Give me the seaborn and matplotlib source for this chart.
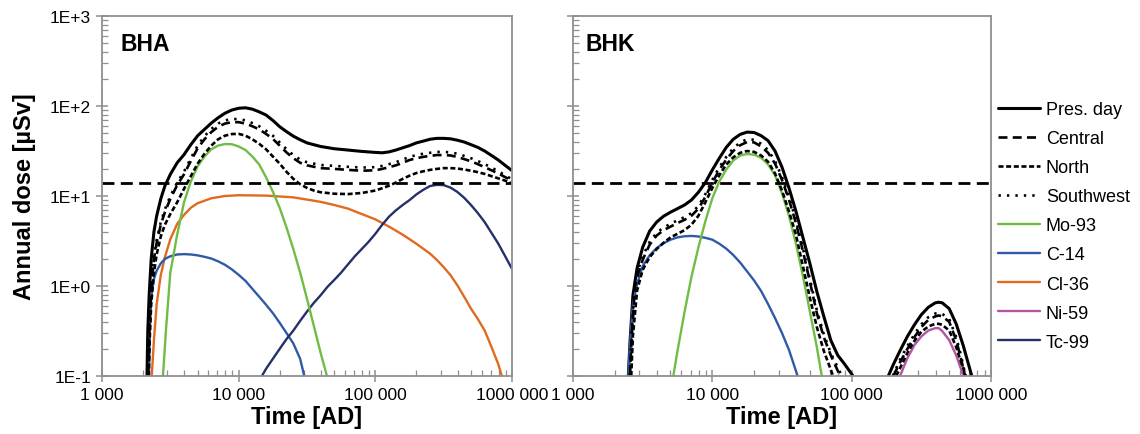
import matplotlib
matplotlib.use("Agg")
import matplotlib.pyplot as plt
from matplotlib.lines import Line2D
from matplotlib.ticker import FixedLocator, LogLocator, NullFormatter
import pandas as pd
import seaborn as sns

sns.set_theme(style="white")
plt.rcParams["font.family"] = ["Liberation Sans", "DejaVu Sans"]
plt.rcParams["text.color"] = "black"
plt.rcParams["axes.labelcolor"] = "black"

# ---------------- annual dose [uSv] versus time [AD] ----------------
dose_limit = 14.0

# ---- BHA ----
bha_pres_t = [2134, 2163, 2213, 2291, 2399, 2512, 2692, 2884, 3162, 3548, 3981, 4467, 5012,
              5623, 6310, 7079, 7943, 8913, 10000, 11220, 12590, 14130, 15850, 17780, 19950,
              22390, 25120, 28180, 31620, 39810, 50120, 63100, 79430, 100000, 112200, 125900,
              141300, 158500, 177800, 199500, 223900, 251200, 281800, 316200, 354800, 398100,
              446700, 501200, 562300, 631000, 707900, 794300, 891300, 1000000]
bha_pres_d = [0.1, 0.32, 0.79, 2.0, 4.0, 6.0, 9.3, 12.9, 17.4, 23.4, 28.8, 37.2, 46.8,
              55, 64.6, 74.1, 83.2, 90.2, 94.4, 95.5, 92.3, 86.1, 79.4, 69.2, 58.9,
              51.9, 46.2, 42.2, 38.9, 35.5, 33.5, 32.4, 31.3, 30.5, 30.2, 30.9,
              32.4, 34.3, 36.3, 38.9, 40.7, 42.7, 43.7, 43.7, 43.2, 41.7,
              39.8, 37.2, 34.7, 31.6, 28.2, 25.1, 21.9, 19.1]

bha_central_t = [2170, 2213, 2291, 2399, 2512, 2692, 2884, 3162, 3548, 3981, 4467, 5012,
                 5623, 6310, 7079, 7943, 8913, 10000, 11220, 12590, 14130, 15850, 17780,
                 19950, 22390, 25120, 28180, 31620, 39810, 50120, 63100, 79430, 100000,
                 112200, 125900, 141300, 158500, 177800, 199500, 223900, 251200, 281800,
                 316200, 354800, 398100, 446700, 501200, 562300, 631000, 707900, 794300,
                 891300, 1000000]
bha_central_d = [0.1, 0.35, 0.89, 2.0, 3.0, 4.8, 6.6, 9.3, 13.2, 17.4, 24.5, 33.9,
                 42.7, 51.3, 58.9, 63.8, 66.1, 66.1, 63.8, 59.6, 55, 49, 43.2,
                 36.3, 30.5, 26.3, 23.4, 21.9, 20.4, 20, 19.5, 19.1, 19.3,
                 20, 20.9, 21.9, 23.4, 25.1, 26.3, 27.2, 27.9, 28.5,
                 28.5, 28.2, 27.2, 25.7, 24.3, 22.6, 20.9, 19.3, 17.8,
                 16.2, 14.8]

bha_north_t = [2198, 2239, 2291, 2399, 2512, 2692, 2884, 3162, 3548, 3981, 4467, 5012,
               5623, 6310, 7079, 7943, 8913, 10000, 11220, 12590, 14130, 15850, 17780,
               19950, 22390, 25120, 28180, 31620, 35480, 39810, 50120, 63100, 79430,
               100000, 112200, 125900, 141300, 158500, 177800, 199500, 223900, 251200,
               281800, 316200, 354800, 398100, 446700, 501200, 562300, 631000, 707900,
               794300, 891300, 1000000]
bha_north_d = [0.1, 0.28, 0.63, 1.41, 2.24, 3.55, 4.79, 6.31, 8.51, 12.0, 16.6, 22.9,
               29.5, 36.3, 42.7, 46.8, 48.8, 49, 46.8, 42.7, 38, 33.1, 27.5,
               22.9, 18.6, 15.5, 13.5, 12.3, 11.5, 11.0, 10.6, 10.5, 10.8,
               11.5, 12.2, 13.0, 14.1, 15.5, 16.8, 18.0, 18.8, 19.5,
               20, 20.4, 20.4, 20.2, 19.7, 19.1, 18.4, 17.6, 16.6,
               15.7, 14.8, 13.8]

bha_sw_t = [2165, 2213, 2291, 2399, 2512, 2692, 2884, 3162, 3548, 3981, 4467, 5012,
            5623, 6310, 7079, 7943, 8913, 10000, 11220, 12590, 14130, 15850, 17780,
            19950, 22390, 25120, 28180, 31620, 39810, 50120, 63100, 79430, 100000,
            112200, 125900, 141300, 158500, 177800, 199500, 223900, 251200, 281800,
            316200, 354800, 398100, 446700, 501200, 562300, 631000, 707900, 794300,
            891300, 1000000]
bha_sw_d = [0.1, 0.4, 1.0, 2.14, 3.24, 5.13, 7.08, 10, 14.1, 18.6, 26.3, 36.3,
            46.2, 55.6, 63.8, 69.2, 71.6, 71.6, 69.2, 64.6, 59.6, 53.1, 46.8,
            39.4, 33.1, 28.5, 25.4, 23.7, 22.1, 21.6, 21.1, 20.7, 20.9,
            21.6, 22.6, 23.7, 25.4, 27.2, 28.5, 29.5, 30.2, 30.9,
            30.9, 30.5, 29.5, 27.9, 26.3, 24.5, 22.6, 20.7, 18.8,
            17, 15.3]

bha_mo93_t = [2793, 2951, 3162, 3548, 3981, 4467, 5012, 5623, 6310, 7079, 7943, 8913,
              10000, 11220, 12590, 14130, 15850, 17780, 19950, 22390, 25120, 28180,
              31620, 35480, 39810, 44260]
bha_mo93_d = [0.1, 0.355, 1.41, 3.72, 8.5, 14.5, 21.4, 27.5, 33.1, 36.3, 37.8, 37.6,
              35.5, 32.4, 27.5, 22.4, 16.2, 11.2, 7.4, 4.47, 2.57, 1.41,
              0.72, 0.36, 0.18, 0.1]

bha_c14_t = [2208, 2239, 2291, 2399, 2512, 2692, 2884, 3162, 3548, 3981, 4467, 5012,
             5623, 6310, 7079, 7943, 8913, 10000, 11220, 12590, 14130, 15850, 17780,
             19950, 22390, 25120, 28180, 30200]
bha_c14_d = [0.1, 0.32, 0.74, 1.2, 1.48, 1.78, 2.0, 2.14, 2.24, 2.26, 2.24, 2.19,
             2.11, 2.02, 1.88, 1.72, 1.53, 1.33, 1.14, 0.93, 0.76, 0.62, 0.5,
             0.39, 0.3, 0.23, 0.155, 0.1]

bha_cl36_t = [2312, 2399, 2512, 2692, 2884, 3162, 3548, 3981, 4467, 5012, 6310, 7943,
              10000, 15850, 25120, 39810, 50120, 63100, 79430, 100000, 125900, 158500,
              199500, 251200, 281800, 316200, 354800, 398100, 446700, 501200, 562300,
              631000, 707900, 794300, 843000]
bha_cl36_d = [0.1, 0.25, 0.63, 1.32, 2.09, 3.31, 4.9, 6.17, 7.41, 8.32, 9.44, 10,
              10.2, 10.1, 9.66, 8.61, 7.94, 7.24, 6.31, 5.5, 4.57, 3.72,
              2.95, 2.29, 1.95, 1.62, 1.32, 1.02, 0.76, 0.56, 0.43,
              0.32, 0.21, 0.135, 0.1]

bha_tc99_t = [14800, 15850, 17780, 19950, 22390, 25120, 28180, 31620, 35480, 39810,
              44670, 50120, 56230, 63100, 70790, 79430, 89130, 100000, 112200, 125900,
              141300, 158500, 177800, 199500, 223900, 251200, 281800, 316200, 354800,
              398100, 446700, 501200, 562300, 631000, 707900, 794300, 891300, 1000000]
bha_tc99_d = [0.1, 0.12, 0.155, 0.2, 0.257, 0.32, 0.41, 0.52, 0.65, 0.79,
              0.98, 1.17, 1.41, 1.74, 2.14, 2.57, 3.09, 3.8, 4.79, 5.89,
              6.92, 7.94, 9.0, 10.4, 11.7, 12.9, 13.3, 13.2, 12.4,
              11.1, 9.55, 7.94, 6.46, 5.13, 3.89, 2.95, 2.14, 1.55]

# ---- BHK, first release pulse ----
bhk_pres_t = [2495, 2570, 2692, 2884, 3162, 3548, 3981, 4467, 5012, 5623, 6310, 7079,
              7943, 8913, 10000, 11220, 12590, 14130, 15850, 17780, 19950, 22390, 25120,
              28180, 31620, 35480, 39810, 44670, 50120, 56230, 63100, 70790, 79430,
              89130, 102300]
bhk_pres_d = [0.1, 0.25, 0.79, 1.58, 2.69, 4.07, 5.13, 5.96, 6.61, 7.24, 7.94, 9.02,
              11.0, 14.1, 19.5, 26.3, 34.7, 42.7, 48.4, 51.3, 50.7, 46.8, 41.2,
              31.6, 20.9, 12.3, 6.76, 3.47, 1.78, 0.87, 0.46, 0.25, 0.17,
              0.135, 0.1]

bhk_central_t = [2566, 2630, 2786, 2951, 3162, 3548, 3981, 4467, 5012, 5623, 6310, 7079,
                 7943, 8913, 10000, 11220, 12590, 14130, 15850, 17780, 19950, 22390,
                 25120, 28180, 31620, 35480, 39810, 44670, 50120, 56230, 63100, 70790,
                 82600]
bhk_central_d = [0.1, 0.25, 1.0, 1.41, 1.95, 2.88, 3.63, 4.17, 4.57, 5.01, 5.43, 6.03,
                 7.24, 9.77, 14.1, 19.5, 25.4, 31.6, 36.7, 39.8, 39.4, 35.5,
                 30.2, 22.9, 15.1, 9.12, 5.01, 2.45, 1.12, 0.5, 0.27, 0.17,
                 0.1]

bhk_north_t = [2618, 2692, 2884, 3162, 3548, 3981, 4467, 5012, 5623, 6310, 7079, 7943,
               8913, 10000, 11220, 12590, 14130, 15850, 17780, 19950, 22390, 25120,
               28180, 31620, 35480, 39810, 44670, 50120, 56230, 63100, 73600]
bhk_north_d = [0.1, 0.28, 0.89, 1.51, 2.09, 2.57, 3.02, 3.47, 3.8, 4.17, 4.79, 6.03,
               8.51, 12.3, 17, 22.4, 26.9, 30.2, 31.6, 30.9, 28.2, 24,
               17.8, 11.5, 6.76, 3.72, 1.66, 0.74, 0.35, 0.19, 0.1]

bhk_sw_t = [2553, 2630, 2786, 2951, 3162, 3548, 3981, 4467, 5012, 5623, 6310, 7079,
            7943, 8913, 10000, 11220, 12590, 14130, 15850, 17780, 19950, 22390,
            25120, 28180, 31620, 35480, 39810, 44670, 50120, 56230, 63100, 70790,
            85100]
bhk_sw_d = [0.1, 0.28, 1.1, 1.55, 2.14, 3.09, 3.89, 4.47, 4.9, 5.37, 5.82, 6.46,
            7.76, 10.5, 15.1, 20.9, 27.2, 33.9, 39.4, 42.7, 42.2, 38,
            32.4, 24.5, 16.2, 9.77, 5.37, 2.63, 1.2, 0.54, 0.29, 0.18,
            0.1]

bhk_mo93_t = [5248, 5623, 6310, 7079, 7943, 8913, 10000, 11220, 12590, 14130, 15850,
              17780, 19950, 22390, 25120, 28180, 31620, 35480, 39810, 44670, 50120,
              56230, 61000]
bhk_mo93_d = [0.1, 0.19, 0.51, 1.26, 2.69, 5.25, 9.44, 14.5, 19.7, 24.8, 28.2,
              29.3, 28.8, 26.6, 22.4, 17, 10.7, 6.03, 2.95, 1.29, 0.52,
              0.21, 0.1]

bhk_c14_t = [2495, 2570, 2692, 2884, 3162, 3548, 3981, 4467, 5012, 5623, 6310, 7079,
             7943, 8913, 10000, 11220, 12590, 14130, 15850, 17780, 19950, 22390, 25120,
             28180, 31620, 35480, 40930]
bhk_c14_d = [0.1, 0.24, 0.63, 1.05, 1.66, 2.19, 2.63, 2.99, 3.27, 3.47, 3.57, 3.6,
             3.55, 3.43, 3.27, 2.95, 2.6, 2.21, 1.82, 1.45, 1.15, 0.88, 0.63,
             0.44, 0.3, 0.195, 0.1]

# ---- BHK, second release pulse ----
bhk_pres_late_t = [183200, 199500, 223900, 251200, 281800, 316200, 354800, 398100, 421700,
                   446700, 501200, 562300, 631000, 676100, 727800]
bhk_pres_late_d = [0.1, 0.135, 0.195, 0.275, 0.37, 0.48, 0.58, 0.65, 0.66,
                   0.65, 0.56, 0.38, 0.22, 0.15, 0.1]
bhk_central_late_t = [199100, 223900, 251200, 281800, 316200, 354800, 398100, 421700,
                      446700, 501200, 562300, 602600, 651600]
bhk_central_late_d = [0.1, 0.145, 0.2, 0.27, 0.35, 0.42, 0.46, 0.47,
                      0.46, 0.4, 0.25, 0.166, 0.1]
bhk_north_late_t = [208900, 223900, 251200, 281800, 316200, 354800, 398100, 421700,
                    446700, 501200, 562300, 602600, 660700]
bhk_north_late_d = [0.1, 0.125, 0.18, 0.245, 0.31, 0.355, 0.38, 0.38,
                    0.37, 0.32, 0.21, 0.15, 0.1]
bhk_sw_late_t = [197200, 223900, 251200, 281800, 316200, 354800, 398100, 421700,
                 446700, 501200, 562300, 602600, 657700]
bhk_sw_late_d = [0.1, 0.155, 0.215, 0.29, 0.375, 0.45, 0.495, 0.5,
                 0.49, 0.43, 0.27, 0.18, 0.1]
bhk_ni59_t = [222300, 251200, 281800, 316200, 354800, 398100, 421700, 446700, 501200,
              562300, 633900]
bhk_ni59_d = [0.1, 0.158, 0.22, 0.275, 0.32, 0.34, 0.34, 0.316, 0.25,
              0.17, 0.1]

x_ticks = [1e3, 1e4, 1e5, 1e6]
x_ticklabels = ["1 000", "10 000", "100 000", "1000 000"]
y_ticks = [0.1, 1, 10, 100, 1000]
y_ticklabels = ["1E-1", "1E+0", "1E+1", "1E+2", "1E+3"]
legend_labels = ["Pres. day", "Central", "North", "Southwest",
                 "Mo-93", "C-14", "Cl-36", "Ni-59", "Tc-99"]

# ---------------- styles ----------------
colors = {"Mo-93": "#6fbd45", "C-14": "#2f5aa8", "Cl-36": "#e06b1f",
          "Ni-59": "#b255a3", "Tc-99": "#252f6b"}
styles = {
    "Pres. day": dict(color="black", lw=2.2, ls="-"),
    "Central": dict(color="black", lw=1.9, ls=(0, (3.4, 2.0))),
    "North": dict(color="black", lw=1.9, ls=(0, (1.9, 1.0))),
    "Southwest": dict(color="black", lw=1.9, ls=(0, (0.9, 2.3))),
}
for name, c in colors.items():
    styles[name] = dict(color=c, lw=1.7, ls="-")

panels = {
    "BHA": [("Pres. day", bha_pres_t, bha_pres_d),
            ("Cl-36", bha_cl36_t, bha_cl36_d),
            ("C-14", bha_c14_t, bha_c14_d),
            ("Tc-99", bha_tc99_t, bha_tc99_d),
            ("Mo-93", bha_mo93_t, bha_mo93_d),
            ("North", bha_north_t, bha_north_d),
            ("Central", bha_central_t, bha_central_d),
            ("Southwest", bha_sw_t, bha_sw_d)],
    "BHK": [("Pres. day", bhk_pres_t, bhk_pres_d),
            ("Pres. day", bhk_pres_late_t, bhk_pres_late_d),
            ("C-14", bhk_c14_t, bhk_c14_d),
            ("Mo-93", bhk_mo93_t, bhk_mo93_d),
            ("Ni-59", bhk_ni59_t, bhk_ni59_d),
            ("North", bhk_north_t, bhk_north_d),
            ("North", bhk_north_late_t, bhk_north_late_d),
            ("Central", bhk_central_t, bhk_central_d),
            ("Central", bhk_central_late_t, bhk_central_late_d),
            ("Southwest", bhk_sw_t, bhk_sw_d),
            ("Southwest", bhk_sw_late_t, bhk_sw_late_d)],
}

W, H = 1140, 435
fig = plt.figure(figsize=(W / 100, H / 100), dpi=100)
ax_bha = fig.add_axes([102 / W, 58 / H, 410 / W, 360 / H])
ax_bhk = fig.add_axes([573 / W, 58 / H, 418 / W, 360 / H])

spine_grey = "#8f8f8f"
tick_font = 12.5

for ax, (title, curves) in zip([ax_bha, ax_bhk], panels.items()):
    ax.set_xscale("log")
    ax.set_yscale("log")
    ax.set_xlim(1e3, 1e6)
    ax.set_ylim(0.1, 1000)

    for name, t, d in curves:
        df = pd.DataFrame({"Time": t, "Dose": d})
        st = styles[name]
        sns.lineplot(data=df, x="Time", y="Dose", ax=ax, estimator=None, sort=False,
                     legend=False, color=st["color"], linewidth=st["lw"],
                     linestyle=st["ls"], solid_capstyle="butt", dash_capstyle="butt",
                     solid_joinstyle="round")

    ax.axhline(dose_limit, color="black", lw=2.0, ls=(0, (4.3, 2.3)))

    for s in ax.spines.values():
        s.set_color(spine_grey)
        s.set_linewidth(1.3)

    ax.xaxis.set_major_locator(FixedLocator(x_ticks))
    ax.set_xticklabels(x_ticklabels)
    ax.yaxis.set_major_locator(FixedLocator(y_ticks))
    ax.xaxis.set_minor_locator(LogLocator(base=10, subs=range(2, 10), numticks=20))
    ax.yaxis.set_minor_locator(LogLocator(base=10, subs=range(2, 10), numticks=20))
    ax.xaxis.set_minor_formatter(NullFormatter())
    ax.yaxis.set_minor_formatter(NullFormatter())
    ax.tick_params(which="both", bottom=True, left=True, top=False, right=False)
    ax.tick_params(which="major", direction="inout", length=8, width=1.1,
                   color=spine_grey, labelsize=tick_font, labelcolor="black", pad=4)
    ax.tick_params(which="minor", direction="in", length=4, width=0.9, color=spine_grey)
    ax.set_xlabel("Time [AD]", fontsize=17, fontweight="bold", labelpad=2)
    ax.set_ylabel("")
    ax.grid(False)
    ax.text(0.046 if title == "BHA" else 0.03, 0.906, title, transform=ax.transAxes,
            fontsize=16.5, fontweight="bold", va="baseline", ha="left")

ax_bha.set_yticklabels(y_ticklabels)
ax_bha.set_ylabel("Annual dose [µSv]", fontsize=17, fontweight="bold", labelpad=10)
ax_bhk.set_yticklabels([])

handles = [Line2D([], [], color=styles[n]["color"], lw=styles[n]["lw"],
                  ls=styles[n]["ls"]) for n in legend_labels]
fig.legend(handles, legend_labels, loc="upper left",
           bbox_to_anchor=(998 / W, 1 - 102 / H), frameon=False,
           fontsize=13, handlelength=2.3, handletextpad=0.35,
           labelspacing=0.67, borderpad=0, borderaxespad=0)

fig.savefig("out.png", dpi=100)
